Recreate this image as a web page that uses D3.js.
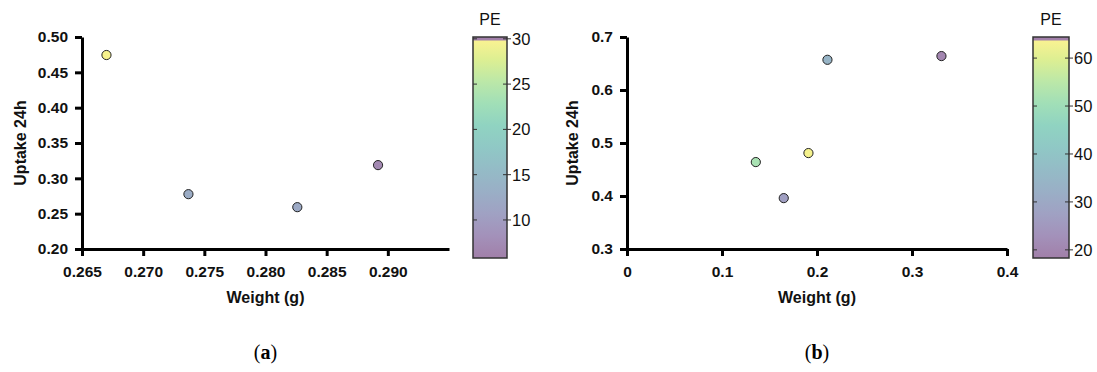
<!DOCTYPE html>
<html>
<head>
<meta charset="utf-8">
<script src="https://cdn.jsdelivr.net/npm/d3@7"></script>
<style>
  body { margin: 0; background: #fff; }
  svg { display: block; font-family: "Liberation Sans", Arial, sans-serif; }
</style>
</head>
<body>
<svg id="chart" width="1097" height="372"></svg>
<script>
// panel (a)
const weightA = [0.2670, 0.2737, 0.2826, 0.2892]
const uptakeA = [0.4745, 0.2776, 0.2592, 0.3187]
const peA = [29.6, 12.5, 12.0, 7.0]
const xTicksA = [0.265, 0.270, 0.275, 0.280, 0.285, 0.290]
const yTicksA = [0.20, 0.25, 0.30, 0.35, 0.40, 0.45, 0.50]
const cbTicksA = [10, 15, 20, 25, 30]

// panel (b)
const weightB = [0.1356, 0.165, 0.191, 0.211, 0.331]
const uptakeB = [0.464, 0.396, 0.481, 0.657, 0.664]
const peB = [52, 27, 63, 34, 20]
const xTicksB = [0, 0.1, 0.2, 0.3, 0.4]
const yTicksB = [0.3, 0.4, 0.5, 0.6, 0.7]
const cbTicksB = [20, 30, 40, 50, 60]

const svg = d3.select('#chart')

function drawPanel(opt) {
    const g = svg.append('g')
    const x = d3.scaleLinear().domain(opt.xDomain).range([opt.left, opt.right])
    const y = d3.scaleLinear().domain(opt.yDomain).range([opt.bottom, opt.top])
    const color = d3.scaleSequential(d3.interpolateViridis).domain(opt.peDomain)

    const xAxis = g.append('g')
        .attr('transform', `translate(0,${opt.bottom})`)
        .call(d3.axisBottom(x).tickValues(opt.xTicks).tickFormat(opt.xFmt).tickSize(7).tickSizeOuter(0).tickPadding(10))
    const yAxis = g.append('g')
        .attr('transform', `translate(${opt.left},0)`)
        .call(d3.axisLeft(y).tickValues(opt.yTicks).tickFormat(opt.yFmt).tickSize(7).tickSizeOuter(0).tickPadding(7))

    for (const ax of [xAxis, yAxis]) {
        ax.select('.domain').attr('stroke', '#000').attr('stroke-width', 3)
        ax.selectAll('.tick line').attr('stroke', '#000').attr('stroke-width', 3)
        ax.selectAll('.tick text')
            .attr('font-family', '"Liberation Sans", Arial, sans-serif')
            .attr('font-size', 15.5).attr('font-weight', 'bold').attr('fill', '#111')
    }

    // points
    g.selectAll('.dot')
        .data(opt.weight.map((w, i) => ({ w, u: opt.uptake[i], pe: opt.pe[i] })))
        .enter()
        .append('circle')
        .attr('class', 'dot')
        .attr('cx', d => x(d.w))
        .attr('cy', d => y(d.u))
        .attr('r', 4.6)
        .attr('fill', d => color(d.pe))
        .attr('fill-opacity', 0.5)
        .attr('stroke', '#222')
        .attr('stroke-width', 1)

    // axis titles
    g.append('text')
        .attr('x', (opt.left + opt.right) / 2).attr('y', 303)
        .attr('text-anchor', 'middle')
        .attr('font-size', 16).attr('font-weight', 'bold').attr('fill', '#111')
        .text('Weight (g)')
    g.append('text')
        .attr('transform', `translate(${opt.ylabX},${(opt.top + opt.bottom) / 2}) rotate(-90)`)
        .attr('text-anchor', 'middle').attr('dy', '0.35em')
        .attr('font-size', 16).attr('font-weight', 'bold').attr('fill', '#111')
        .text('Uptake 24h')

    // colorbar
    const cb = opt.cb
    const cy = d3.scaleLinear().domain(opt.peDomain).range([cb.bottom, cb.top])
    const gradId = 'grad' + opt.name
    const grad = svg.append('defs').append('linearGradient')
        .attr('id', gradId).attr('x1', 0).attr('y1', 1).attr('x2', 0).attr('y2', 0)
    d3.range(0, 1.001, 0.1).forEach(t => {
        grad.append('stop').attr('offset', t).attr('stop-color', d3.interpolateViridis(t))
    })
    g.append('rect')
        .attr('x', cb.left).attr('y', cb.top)
        .attr('width', cb.right - cb.left).attr('height', cb.bottom - cb.top)
        .attr('fill', '#fff')
    g.append('rect')
        .attr('x', cb.left).attr('y', cb.top)
        .attr('width', cb.right - cb.left).attr('height', cb.bottom - cb.top)
        .attr('fill', `url(#${gradId})`).attr('fill-opacity', 0.5)
    // thin purple band at the very top of the bar, as in the source figure
    g.append('rect')
        .attr('x', cb.left).attr('y', cb.top)
        .attr('width', cb.right - cb.left).attr('height', 3.5)
        .attr('fill', d3.interpolateRgb('#fff', d3.interpolateViridis(0))(0.5))
    g.append('rect')
        .attr('x', cb.left).attr('y', cb.top)
        .attr('width', cb.right - cb.left).attr('height', cb.bottom - cb.top)
        .attr('fill', 'none').attr('stroke', '#333').attr('stroke-width', 1.5)

    const cbt = g.selectAll('.cbtick').data(opt.cbTicks).enter().append('g')
        .attr('transform', d => `translate(0,${cy(d)})`)
    cbt.append('line')
        .attr('x1', cb.left).attr('x2', cb.left + 4)
        .attr('stroke', '#333').attr('stroke-width', 1)
    cbt.append('line')
        .attr('x1', cb.right - 4).attr('x2', cb.right + 4)
        .attr('stroke', '#333').attr('stroke-width', 1)
    cbt.append('text')
        .attr('x', cb.right + 5).attr('dy', '0.36em')
        .attr('font-size', 16.5).attr('fill', '#111')
        .text(d => d)

    g.append('text')
        .attr('x', (cb.left + cb.right) / 2).attr('y', 25)
        .attr('text-anchor', 'middle')
        .attr('font-size', 16).attr('fill', '#111')
        .text('PE')

    // sub-caption
    const cap = g.append('text')
        .attr('x', (opt.left + opt.right) / 2).attr('y', 359)
        .attr('text-anchor', 'middle')
        .attr('font-family', '"Liberation Serif", "Times New Roman", serif')
        .attr('font-size', 20).attr('fill', '#000')
    cap.append('tspan').text('(')
    cap.append('tspan').attr('font-weight', 'bold').text(opt.name)
    cap.append('tspan').text(')')
}

drawPanel({
    name: 'a',
    weight: weightA, uptake: uptakeA, pe: peA,
    xDomain: [0.265, 0.295], yDomain: [0.20, 0.50], peDomain: [5.8, 30.2],
    xTicks: xTicksA, yTicks: yTicksA, cbTicks: cbTicksA,
    xFmt: d3.format('.3f'), yFmt: d3.format('.2f'),
    left: 82, right: 449, top: 37, bottom: 249, ylabX: 20,
    cb: { left: 473, right: 507, top: 37, bottom: 258 }
})

drawPanel({
    name: 'b',
    weight: weightB, uptake: uptakeB, pe: peB,
    xDomain: [0, 0.4], yDomain: [0.3, 0.7], peDomain: [18.3, 64.4],
    xTicks: xTicksB, yTicks: yTicksB, cbTicks: cbTicksB,
    xFmt: d => d === 0 ? '0' : d3.format('.1f')(d), yFmt: d3.format('.1f'),
    left: 627, right: 1007, top: 37, bottom: 249, ylabX: 572,
    cb: { left: 1033, right: 1069, top: 37, bottom: 258 }
})
</script>
</body>
</html>
